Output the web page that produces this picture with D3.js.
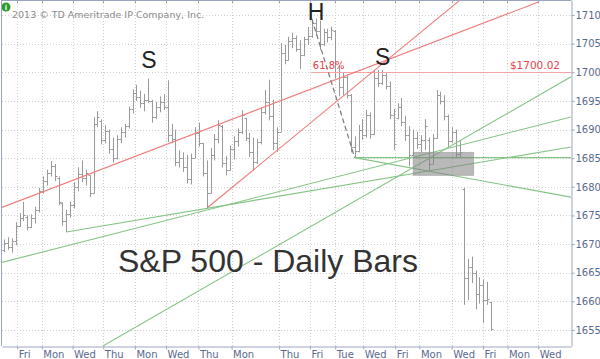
<!DOCTYPE html>
<html><head><meta charset="utf-8">
<script src="https://cdn.jsdelivr.net/npm/d3@7"></script>
<style>body{margin:0;background:#fff}svg{display:block}</style>
</head><body>
<svg id="c" width="600" height="359"></svg>
<script>
// ---- data ----
const opens  = [1669.0,1670.2,1669.5,1670.5,1673.2,1674.6,1674.8,1673.0,1674.5,1676.0,1679.2,1681.0,1682.4,1683.6,1681.5,1677.2,1674.0,1675.2,1676.8,1680.0,1682.2,1681.6,1682.0,1679.0,1691.0,1691.5,1688.2,1689.8,1686.6,1685.0,1688.4,1689.6,1690.6,1693.6,1696.4,1695.6,1694.6,1695.2,1695.0,1692.2,1694.0,1694.8,1694.0,1689.0,1688.4,1684.4,1685.0,1683.4,1681.4,1685.0,1689.4,1687.6,1682.4,1679.0,1685.6,1688.4,1690.6,1684.2,1683.0,1686.6,1688.0,1689.6,1692.0,1688.6,1686.0,1684.4,1687.8,1693.0,1694.8,1692.4,1687.6,1689.6,1703.4,1702.2,1705.4,1706.0,1704.0,1703.0,1705.8,1706.4,1708.6,1707.2,1705.0,1707.0,1706.2,1707.2,1700.0,1697.4,1699.2,1696.0,1687.0,1686.2,1690.0,1689.0,1692.6,1689.2,1699.0,1698.2,1699.6,1697.6,1692.6,1692.0,1694.0,1691.4,1689.0,1685.6,1688.6,1687.4,1688.2,1688.2,1684.0,1688.6,1696.0,1695.0,1692.4,1688.0,1689.6,1685.8,1679.6,1664.0,1666.0,1665.0,1661.2,1662.8,1660.2,1659.8];
const highs  = [1670.8,1671.2,1671.0,1673.8,1675.4,1677.4,1675.0,1675.2,1676.5,1679.8,1681.8,1683.0,1684.5,1684.0,1681.8,1677.3,1676.0,1677.4,1680.8,1683.4,1684.6,1683.0,1682.0,1692.2,1693.2,1691.8,1690.8,1690.0,1688.6,1689.0,1690.4,1691.0,1694.0,1697.0,1697.8,1696.8,1696.2,1698.9,1695.2,1694.8,1695.8,1696.2,1698.6,1691.0,1690.0,1686.4,1686.0,1685.6,1685.8,1690.4,1691.2,1687.6,1684.6,1686.8,1689.2,1691.6,1690.8,1685.4,1687.2,1688.8,1690.2,1693.4,1692.0,1689.4,1688.6,1688.4,1693.8,1696.9,1698.7,1695.2,1690.4,1705.1,1704.8,1706.2,1706.9,1706.4,1705.6,1706.2,1707.9,1709.2,1709.4,1709.0,1707.6,1707.6,1708.0,1707.4,1701.2,1700.0,1699.4,1696.2,1688.8,1690.8,1691.8,1693.4,1693.0,1700.4,1700.4,1700.4,1700.0,1698.4,1693.6,1694.6,1695.5,1692.4,1690.6,1690.0,1689.6,1689.0,1691.8,1688.6,1689.2,1696.9,1696.6,1696.0,1692.6,1690.4,1690.0,1688.0,1679.8,1667.4,1667.8,1665.4,1664.2,1663.8,1663.4,1659.9];
const lows   = [1668.6,1669.0,1668.5,1669.8,1673.0,1674.0,1672.4,1672.8,1673.6,1675.5,1678.8,1680.2,1681.8,1681.0,1676.8,1673.2,1672.1,1674.6,1676.2,1679.2,1680.8,1680.2,1678.2,1678.8,1690.4,1687.4,1687.6,1685.8,1684.2,1684.8,1687.6,1688.6,1690.2,1692.8,1695.0,1693.8,1693.2,1694.6,1691.2,1691.8,1693.0,1693.4,1687.8,1687.6,1683.6,1683.4,1682.6,1680.6,1680.4,1685.0,1687.0,1681.8,1676.3,1678.8,1684.6,1687.6,1683.4,1682.0,1682.8,1684.8,1687.0,1689.2,1688.0,1685.2,1682.9,1684.0,1687.4,1692.6,1691.6,1686.4,1686.1,1689.6,1701.4,1702.0,1704.2,1703.6,1700.6,1702.8,1704.8,1706.0,1706.4,1703.9,1704.6,1705.2,1705.6,1699.0,1695.8,1696.0,1695.4,1686.0,1685.1,1686.0,1688.2,1688.6,1688.4,1689.0,1697.4,1697.8,1697.0,1691.8,1686.4,1691.8,1690.6,1688.0,1683.6,1685.4,1686.6,1686.0,1686.4,1682.9,1684.0,1688.4,1694.4,1691.6,1687.0,1687.6,1685.0,1685.0,1659.4,1660.2,1663.2,1658.6,1659.6,1656.2,1659.4,1654.8];
const closes = [1670.2,1669.5,1670.6,1673.2,1674.6,1675.0,1673.0,1674.6,1676.0,1679.2,1681.0,1682.4,1683.6,1681.8,1677.4,1674.0,1675.2,1676.8,1680.0,1682.2,1681.6,1682.4,1679.0,1691.0,1692.2,1688.2,1689.8,1686.6,1685.0,1688.4,1689.6,1690.6,1693.6,1696.4,1695.6,1694.6,1695.2,1695.0,1692.2,1694.0,1694.8,1694.0,1689.0,1688.4,1684.4,1685.0,1683.4,1681.4,1685.0,1689.4,1687.6,1682.4,1679.0,1685.6,1688.4,1690.8,1684.2,1683.0,1686.6,1688.0,1689.6,1692.6,1688.6,1686.0,1684.4,1687.8,1693.0,1694.8,1692.4,1687.6,1689.6,1703.4,1702.2,1705.4,1706.0,1704.0,1703.0,1705.8,1706.4,1708.6,1707.2,1705.0,1707.0,1706.2,1707.4,1700.0,1697.4,1699.2,1696.0,1687.0,1686.2,1690.0,1689.0,1692.6,1689.2,1699.0,1698.2,1699.6,1697.6,1692.6,1687.4,1694.0,1691.4,1689.0,1685.6,1688.6,1687.4,1688.2,1690.6,1684.0,1688.6,1696.0,1695.0,1692.4,1688.0,1689.6,1685.8,1686.0,1664.0,1666.0,1665.0,1661.2,1662.8,1660.2,1660.4,1655.2];
const xTickLabels = ["Fri","Mon","Wed","Thu","Mon","Wed","Thu","Mon","Thu","Fri","Tue","Wed","Fri","Mon","Wed","Fri","Mon","Wed"];
const xTickPos = [3.9,10.2,18.1,26.0,34.1,42.1,50.4,58.9,71.1,79.0,85.5,92.7,100.9,107.1,115.4,123.4,129.7,137.6];
const yTicks = [1655,1660,1665,1670,1675,1680,1685,1690,1695,1700,1705,1710];
// trend lines: [[x0,p0],[x1,p1]] in bar units / price
const redLines = [[[0,1676.4],[137.8,1712.3]], [[52.6,1676.3],[117.5,1712.6]]];
const greenLines = [[[0,1666.8],[146,1692.2]], [[16.5,1672.1],[146,1686.95]], [[25.9,1652.2],[146,1699.2]], [[90.5,1685.1],[146,1685.1]], [[90.5,1685.1],[146,1678.2]]];
const dashedLine = [[79.5,1709.3],[90.5,1685.1]];
const levelLine = {from:79.5, price:1700.02};
const grayBox = {x0:105.5, x1:121, p0:1682, p1:1686};

// ---- chart ----
const L=2, R=571, T=0, B=346;
const x = d3.scaleLinear().domain([0,146]).range([L,R]);
const y = d3.scaleLinear().domain([1652.2,1712.62]).range([B,T]);
const svg = d3.select('#c');
const axisColor = '#9aa6c0', labColor = '#5a6a8e';
svg.append('defs').append('clipPath').attr('id','clip').append('rect')
  .attr('x',L).attr('y',T).attr('width',R-L).attr('height',B-T);

const crisp = v => Math.round(v)+0.5;
// grid
const grid = svg.append('g').attr('stroke','#cfcfcf').attr('stroke-dasharray','1,2');
grid.selectAll('line.h').data(yTicks).join('line').attr('class','h')
  .attr('x1',L).attr('x2',R).attr('y1',d=>crisp(y(d))).attr('y2',d=>crisp(y(d)));
grid.selectAll('line.v').data(xTickPos).join('line').attr('class','v')
  .attr('y1',T).attr('y2',B).attr('x1',d=>crisp(x(d))).attr('x2',d=>crisp(x(d)));

// copyright
svg.append('circle').attr('cx',6).attr('cy',7).attr('r',4.5).attr('fill','#2e9a2e');
svg.append('text').attr('x',6).attr('y',10).attr('text-anchor','middle').attr('font-family','DejaVu Sans')
  .attr('font-size',7).attr('font-weight','bold').attr('fill','#fff').text('i');
svg.append('text').attr('x',12).attr('y',18).attr('font-family','DejaVu Sans').attr('font-size',9.5)
  .attr('fill','#8c8c8c').text('2013 \u00A9 TD Ameritrade IP Company, Inc.');

const plot = svg.append('g').attr('clip-path','url(#clip)');

// bars
const idx = d3.range(opens.length);
const bars = plot.append('g').attr('stroke','#9a9a9a').attr('stroke-width',1);
idx.forEach(i=>{
  const cx = crisp(x(i+0.5));
  bars.append('line').attr('x1',cx).attr('x2',cx).attr('y1',y(highs[i])).attr('y2',y(lows[i]));
  bars.append('line').attr('x1',cx-2).attr('x2',cx).attr('y1',crisp(y(opens[i]))).attr('y2',crisp(y(opens[i])));
  bars.append('line').attr('x1',cx).attr('x2',cx+2).attr('y1',crisp(y(closes[i]))).attr('y2',crisp(y(closes[i])));
});

// level line
plot.append('line').attr('x1',x(levelLine.from)).attr('x2',R).attr('y1',crisp(y(levelLine.price))).attr('y2',crisp(y(levelLine.price)))
  .attr('stroke','#f4a4a4').attr('stroke-width',1);
// red lines
plot.selectAll('line.red').data(redLines).join('line').attr('class','red')
  .attr('x1',d=>x(d[0][0])).attr('y1',d=>y(d[0][1])).attr('x2',d=>x(d[1][0])).attr('y2',d=>y(d[1][1]))
  .attr('stroke','#f07a7a').attr('stroke-width',1.1);
// green lines
plot.selectAll('line.green').data(greenLines).join('line').attr('class','green')
  .attr('x1',d=>x(d[0][0])).attr('y1',d=>y(d[0][1])).attr('x2',d=>x(d[1][0])).attr('y2',d=>y(d[1][1]))
  .attr('stroke','#86c486').attr('stroke-width',1.1);
// dashed line
plot.append('line').attr('x1',x(dashedLine[0][0])).attr('y1',y(dashedLine[0][1]))
  .attr('x2',x(dashedLine[1][0])).attr('y2',y(dashedLine[1][1]))
  .attr('stroke','#777').attr('stroke-width',1.2).attr('stroke-dasharray','5,3');
// gray box
plot.append('rect').attr('x',x(grayBox.x0)).attr('y',y(grayBox.p1))
  .attr('width',x(grayBox.x1)-x(grayBox.x0)).attr('height',y(grayBox.p0)-y(grayBox.p1))
  .attr('fill','#808080').attr('fill-opacity',0.55).attr('stroke','#9a9a9a').attr('stroke-opacity',0.6);

// annotations
svg.append('text').attr('x',x(79.5)+1).attr('y',y(1700.02)-3).attr('font-family','DejaVu Sans').attr('font-size',10)
  .attr('fill','#e8404a').text('61.8%');
svg.append('text').attr('x',R-11).attr('y',y(1700.02)-3).attr('text-anchor','end').attr('font-family','DejaVu Sans').attr('font-size',10.5)
  .attr('fill','#e8404a').text('$1700.02');
const big = svg.append('g').attr('font-family','Liberation Sans, Arial, sans-serif').attr('fill','#222');
big.append('text').attr('x',x(37.7)).attr('y',y(1700.75)).attr('text-anchor','middle').attr('font-size',23).text('S');
big.append('text').attr('x',x(80.6)).attr('y',y(1709.2)).attr('text-anchor','middle').attr('font-size',23).text('H');
big.append('text').attr('x',x(97.7)).attr('y',y(1701.2)).attr('text-anchor','middle').attr('font-size',23).text('S');
svg.append('text').attr('x',118).attr('y',272).attr('font-family','Liberation Sans, Arial, sans-serif')
  .attr('font-size',32).attr('fill','#333').text('S&P 500 - Daily Bars');

// axes
const yAxis = d3.axisRight(y).tickValues(yTicks).tickSize(3).tickSizeOuter(0).tickPadding(1).tickFormat(d3.format('d'));
const gy = svg.append('g').attr('transform',`translate(${R+0.5},0)`).call(yAxis);
gy.selectAll('text').attr('font-family','DejaVu Sans').attr('font-size',10).attr('fill',labColor);
const xAxis = d3.axisBottom(x).tickValues(xTickPos).tickSize(3).tickSizeOuter(0).tickPadding(1).tickFormat((d,i)=>xTickLabels[i]);
const gx = svg.append('g').attr('transform',`translate(0,${B+0.5})`).call(xAxis);
gx.selectAll('text').attr('font-family','DejaVu Sans').attr('font-size',10).attr('fill',labColor)
  .attr('text-anchor','start').attr('dx',1);
[gx,gy].forEach(g=>{g.selectAll('path,line').attr('stroke',axisColor);});
// left and top frame with top ticks
svg.append('line').attr('x1',L-0.5).attr('x2',L-0.5).attr('y1',0).attr('y2',B).attr('stroke',axisColor);
svg.append('line').attr('x1',L).attr('x2',R).attr('y1',0.5).attr('y2',0.5).attr('stroke',axisColor);
svg.selectAll('line.tt').data(xTickPos).join('line').attr('class','tt')
  .attr('x1',d=>crisp(x(d))).attr('x2',d=>crisp(x(d))).attr('y1',0).attr('y2',3).attr('stroke',axisColor);
</script>
</body></html>
